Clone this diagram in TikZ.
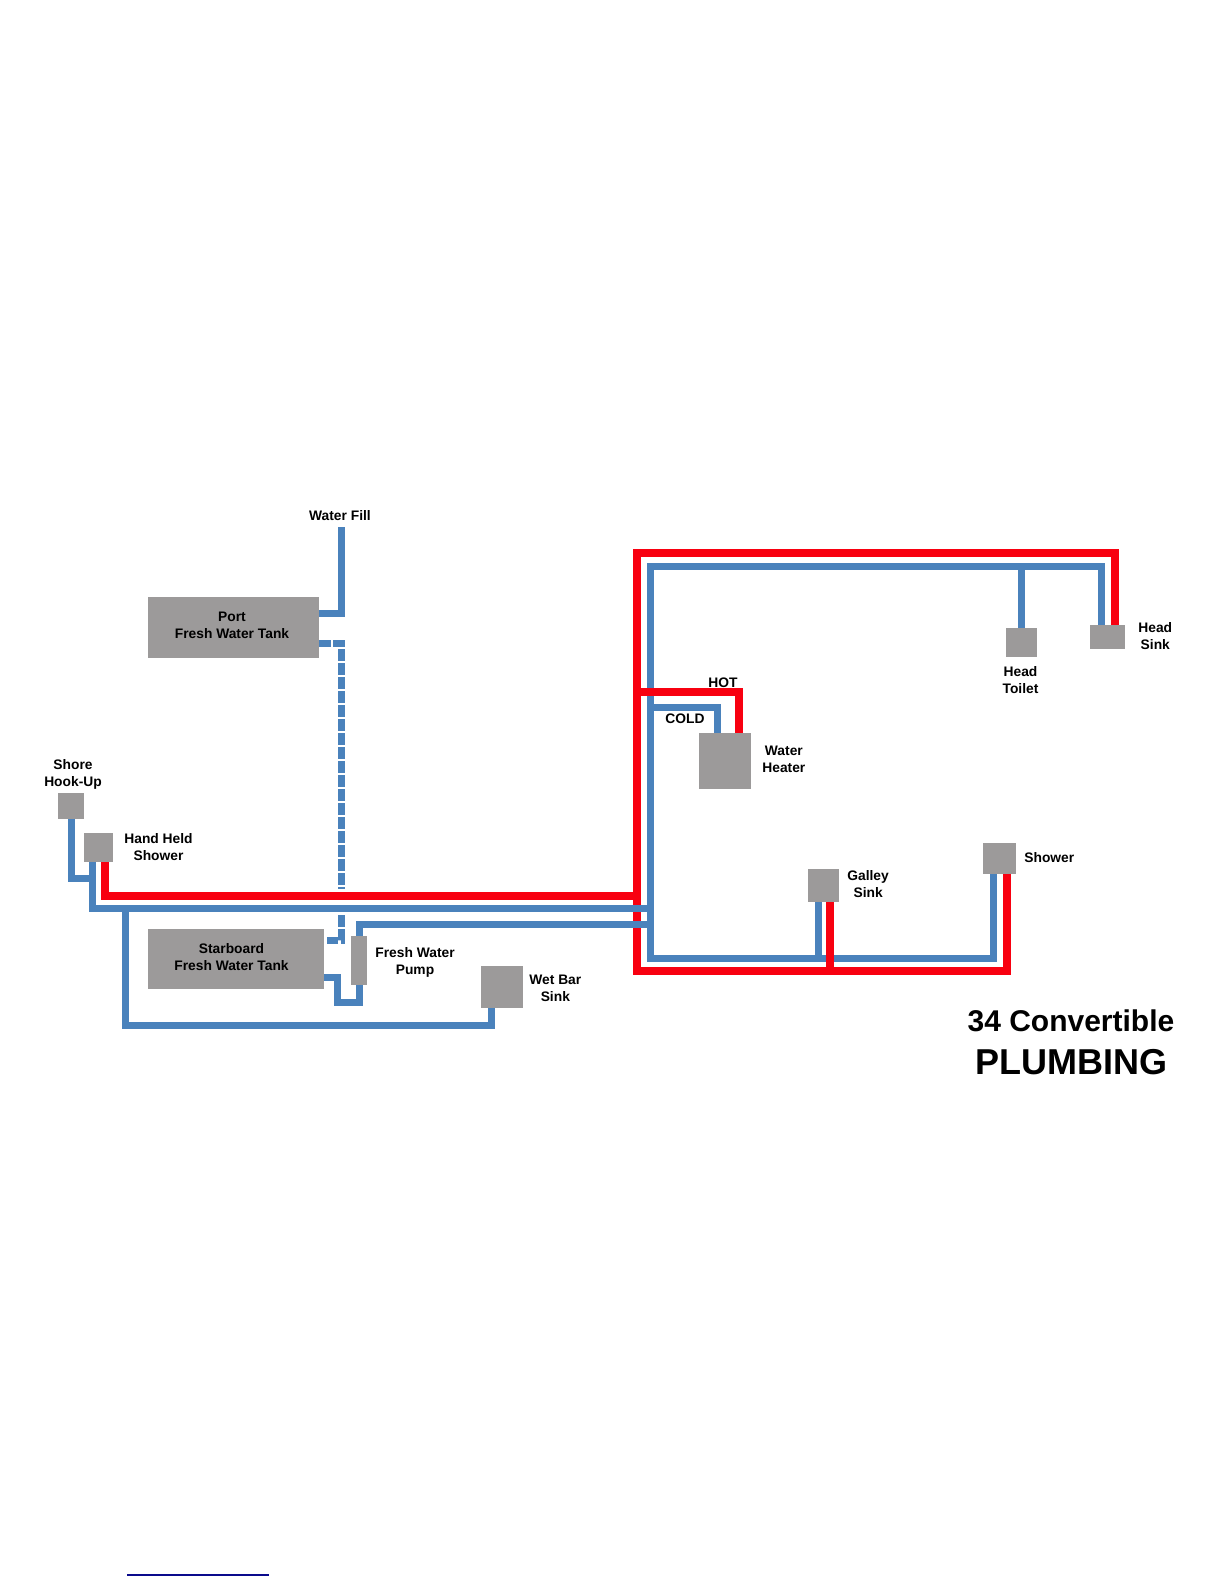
\documentclass[tikz,border=0pt]{standalone}
\usepackage{fontspec}
\setmainfont{Liberation Sans}
\usetikzlibrary{positioning}
\definecolor{PlumbBlue}{HTML}{4A82BC}
\definecolor{PlumbRed}{HTML}{F80010}
\definecolor{PlumbGray}{HTML}{9C9A9A}
\definecolor{PlumbLink}{HTML}{0A0A8C}
\tikzset{
  fixture/.style={
    fill=PlumbGray,
    inner sep=0pt
  },
  fixlabel/.style={
    font=\bfseries\fontsize{13.8}{17}\selectfont,
    align=center,
    inner sep=0pt,
    text=black
  },
  coldpipe/.style={line width=7pt,draw=PlumbBlue},
  hotpipe/.style={line width=7.5pt,draw=PlumbRed},
  fillpipe/.style={coldpipe,dash pattern=on 11.5pt off 2.5pt}
}
\begin{document}
\begin{tikzpicture}[x=1pt,y=-1pt]
        \useasboundingbox (0,0) rectangle (1224,1584);
        \node[fixture,minimum width=171pt,minimum height=61pt] (port) at (233.5,627.5) {};
        \node[fixture,minimum width=176pt,minimum height=60pt] (starboard) at (236,959) {};
        \node[fixture,minimum width=16pt,minimum height=49pt] (pump) at (359,960.5) {};
        \node[fixture,minimum width=26pt,minimum height=26pt] (shore) at (71,806) {};
        \node[fixture,minimum width=29pt,minimum height=29pt] (hand) at (98.5,847.5) {};
        \node[fixture,minimum width=42pt,minimum height=42pt] (wetbar) at (502,987) {};
        \node[fixture,minimum width=52pt,minimum height=56pt] (heater) at (725,761) {};
        \node[fixture,minimum width=31pt,minimum height=33pt] (galley) at (823.5,885.5) {};
        \node[fixture,minimum width=33pt,minimum height=31pt] (shower) at (999.5,858.5) {};
        \node[fixture,minimum width=31pt,minimum height=29pt] (toilet) at (1021.5,642.5) {};
        \node[fixture,minimum width=35pt,minimum height=24pt] (headsink) at (1107.5,637) {};

        \node[fixlabel] (portlabel) at (232,625) {Port\\Fresh Water Tank};
        \node[fixlabel] (starboardlabel) at (231.5,957) {Starboard\\Fresh Water Tank};
        \node[fixlabel] (filllabel) at (340,516) {Water Fill};
        \node[fixlabel,above=3pt of shore,xshift=2pt] (shorelabel) {Shore\\Hook-Up};
        \node[fixlabel,right=11pt of hand] (handlabel) {Hand Held\\Shower};
        \node[fixlabel,right=8pt of pump,yshift=-1.5pt] (pumplabel) {Fresh Water\\Pump};
        \node[fixlabel,right=6pt of wetbar,yshift=-1.5pt] (wetbarlabel) {Wet Bar\\Sink};
        \node[fixlabel,right=11pt of heater,yshift=1.5pt] (heaterlabel) {Water\\Heater};
        \node[fixlabel,right=8pt of galley,yshift=1pt] (galleylabel) {Galley\\Sink};
        \node[fixlabel,right=8pt of shower,yshift=1pt] (showerlabel) {Shower};
        \node[fixlabel,below=9pt of toilet,xshift=-1pt] (toiletlabel) {Head\\Toilet};
        \node[fixlabel,right=13pt of headsink,yshift=1pt] (headsinklabel) {Head\\Sink};
        \node[fixlabel] (hotlabel) at (723,683) {HOT};
        \node[fixlabel] (coldlabel) at (685,719) {COLD};
        \node[font=\bfseries\fontsize{30}{34}\selectfont,text=black,inner sep=0pt] (titleone) at (1071,1021) {34 Convertible};
        \node[font=\bfseries\fontsize{36}{40}\selectfont,text=black,inner sep=0pt] (titletwo) at (1071,1062) {PLUMBING};

        \coordinate (fillend) at (341,527);
        \coordinate (dashend) at (341,889);
        \coordinate (dashstart) at (341,915);
        \coordinate (handtee) at (92,878);
        \coordinate (wettee) at (125,908);
        \coordinate (wetcorner) at (491,1025);
        \coordinate (pumploop) at (337,1002);
        \coordinate (coldmain) at (650,908);
        \coordinate (pumpmain) at (650,924);
        \coordinate (coldtop) at (650,566);
        \coordinate (coldbottom) at (650,958);
        \coordinate (coldheater) at (650,707);
        \coordinate (hotjoin) at (637,896);
        \coordinate (hottop) at (637,553);
        \coordinate (hotbottom) at (637,971);
        \coordinate (hotheater) at (637,692);
        \coordinate (linkleft) at (127,1575);
        \coordinate (linkright) at (269,1575);

        \draw[hotpipe] ([xshift=7.5pt]headsink.north) |- (hottop) -- (hotbottom) -| ([xshift=7.5pt]shower.south);
        \draw[hotpipe] ([xshift=6.5pt]hand.south) |- (hotjoin);
        \draw[coldpipe] ([xshift=-6.5pt]headsink.north) |- (coldtop) -- (coldbottom) -| ([xshift=-6.5pt]shower.south);
        \draw[coldpipe] (toilet.north) |- (coldtop);
        \draw[coldpipe] ([xshift=-5.5pt]galley.south) |- (coldbottom);
        \draw[coldpipe] ([xshift=-8pt]heater.north) |- (coldheater);
        \draw[coldpipe] (shore.south) |- (handtee);
        \draw[coldpipe] ([xshift=-6.5pt]hand.south) |- (coldmain);
        \draw[coldpipe] (wettee) |- (wetcorner) -- ([xshift=-11pt]wetbar.south);
        \draw[coldpipe] (pump.north) |- (pumpmain);
        \draw[coldpipe] ([yshift=-18pt]starboard.east) -| (pumploop) -| (pump.south);
        \draw[coldpipe] (fillend) |- ([yshift=14.5pt]port.east);
        \draw[fillpipe] ([yshift=-15.5pt]port.east) -| (dashend);
        \draw[fillpipe] (dashstart) |- ([yshift=19pt]starboard.east);
        \draw[hotpipe] ([xshift=14pt]heater.north) |- (hotheater);
        \draw[hotpipe] ([xshift=6.5pt]galley.south) |- (hotbottom);
        \draw[line width=1.3pt,draw=PlumbLink] (linkleft) -- (linkright);
      \end{tikzpicture}
\end{document}
